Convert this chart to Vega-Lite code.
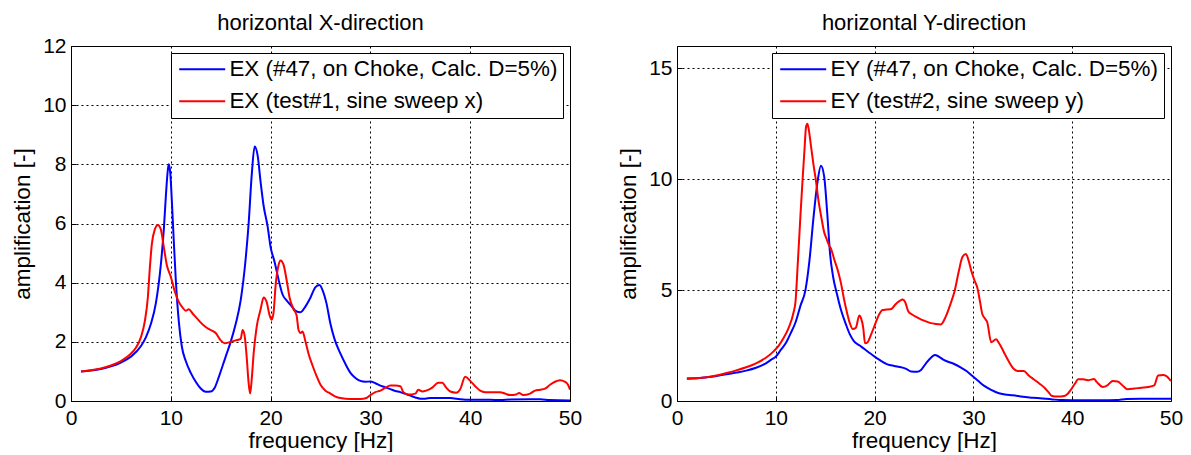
{
  "$schema": "https://vega.github.io/schema/vega-lite/v6.json",
  "padding": {"left": 10, "top": 11, "right": 5, "bottom": 0},
  "spacing": 33,
  "config": {
    "font": "Liberation Sans",
    "view": {"stroke": "#000000", "strokeWidth": 1},
    "axis": {
      "domain": false, "ticks": true, "tickSize": -5, "tickColor": "#000000", "tickWidth": 1, "grid": true,
      "gridColor": "#000000", "gridDash": [2, 3], "gridOpacity": 1, "gridWidth": 1,
      "labelFont": "Liberation Sans", "labelFontSize": 21, "labelColor": "#000000", "labelFlush": false,
      "titleFont": "Liberation Sans", "titleFontSize": 22.5, "titleFontWeight": "normal", "titleColor": "#000000"
    },
    "axisX": {"labelPadding": 11, "titlePadding": 1},
    "axisY": {"labelPadding": 10, "titlePadding": 7, "minExtent": 30, "maxExtent": 30},
    "title": {"font": "Liberation Sans", "fontSize": 22, "fontWeight": "normal", "color": "#000000", "frame": "group", "anchor": "middle", "baseline": "alphabetic"},
    "legend": {
      "orient": "top-right", "offset": 7, "strokeColor": "#000000", "fillColor": "#ffffff",
      "padding": 5, "symbolType": "M-3,0H3", "symbolSize": 235, "symbolStrokeWidth": 2,
      "symbolOffset": 15, "labelOffset": 16, "labelFont": "Liberation Sans", "labelFontSize": 22.4,
      "labelColor": "#000000", "labelLimit": 0, "rowPadding": 9
    }
  },
  "resolve": {"scale": {"color": "independent"}, "legend": {"color": "independent"}},
  "datasets": {
    "ex": [
      {"s":"calc","f":1,"a":1.0},{"s":"calc","f":2,"a":1.03},{"s":"calc","f":3,"a":1.08},{"s":"calc","f":4,"a":1.17},{"s":"calc","f":5,"a":1.3},{"s":"calc","f":6,"a":1.5},{"s":"calc","f":7,"a":1.85},{"s":"calc","f":7.5,"a":2.15},{"s":"calc","f":8,"a":2.6},{"s":"calc","f":8.5,"a":3.3},{"s":"calc","f":9,"a":4.6},{"s":"calc","f":9.3,"a":5.8},{"s":"calc","f":9.5,"a":6.9},{"s":"calc","f":9.7,"a":7.8},{"s":"calc","f":9.8,"a":8.0},{"s":"calc","f":9.95,"a":7.7},{"s":"calc","f":10.1,"a":6.8},{"s":"calc","f":10.3,"a":5.4},{"s":"calc","f":10.5,"a":4.1},{"s":"calc","f":10.8,"a":2.7},{"s":"calc","f":11.1,"a":1.85},{"s":"calc","f":11.5,"a":1.35},{"s":"calc","f":12,"a":0.95},{"s":"calc","f":12.5,"a":0.65},{"s":"calc","f":13,"a":0.42},{"s":"calc","f":13.5,"a":0.31},{"s":"calc","f":14,"a":0.32},{"s":"calc","f":14.4,"a":0.45},{"s":"calc","f":14.8,"a":0.8},{"s":"calc","f":15.2,"a":1.2},{"s":"calc","f":15.6,"a":1.6},{"s":"calc","f":16,"a":2.0},{"s":"calc","f":16.5,"a":2.6},{"s":"calc","f":17,"a":3.4},{"s":"calc","f":17.5,"a":4.8},{"s":"calc","f":17.8,"a":6.0},{"s":"calc","f":18.1,"a":7.6},{"s":"calc","f":18.4,"a":8.6},{"s":"calc","f":18.7,"a":8.3},{"s":"calc","f":19.0,"a":7.4},{"s":"calc","f":19.3,"a":6.6},{"s":"calc","f":19.7,"a":5.9},{"s":"calc","f":20,"a":5.2},{"s":"calc","f":20.4,"a":4.7},{"s":"calc","f":20.8,"a":4.1},{"s":"calc","f":21.2,"a":3.6},{"s":"calc","f":21.6,"a":3.4},{"s":"calc","f":22,"a":3.25},{"s":"calc","f":22.5,"a":3.05},{"s":"calc","f":23,"a":3.0},{"s":"calc","f":23.5,"a":3.2},{"s":"calc","f":24,"a":3.5},{"s":"calc","f":24.5,"a":3.85},{"s":"calc","f":24.9,"a":3.92},{"s":"calc","f":25.2,"a":3.75},{"s":"calc","f":25.6,"a":3.3},{"s":"calc","f":26,"a":2.6},{"s":"calc","f":26.4,"a":2.1},{"s":"calc","f":27,"a":1.6},{"s":"calc","f":27.5,"a":1.25},{"s":"calc","f":28,"a":0.95},{"s":"calc","f":28.5,"a":0.78},{"s":"calc","f":29,"a":0.68},{"s":"calc","f":29.5,"a":0.65},{"s":"calc","f":30,"a":0.66},{"s":"calc","f":30.5,"a":0.6},{"s":"calc","f":31,"a":0.52},{"s":"calc","f":31.5,"a":0.46},{"s":"calc","f":32,"a":0.4},{"s":"calc","f":32.5,"a":0.34},{"s":"calc","f":33,"a":0.3},{"s":"calc","f":33.5,"a":0.24},{"s":"calc","f":34,"a":0.18},{"s":"calc","f":34.5,"a":0.12},{"s":"calc","f":35,"a":0.08},{"s":"calc","f":35.5,"a":0.08},{"s":"calc","f":36,"a":0.1},{"s":"calc","f":37,"a":0.1},{"s":"calc","f":38,"a":0.1},{"s":"calc","f":39,"a":0.06},{"s":"calc","f":40,"a":0.04},{"s":"calc","f":42,"a":0.04},{"s":"calc","f":43,"a":0.03},{"s":"calc","f":44,"a":0.05},{"s":"calc","f":46,"a":0.06},{"s":"calc","f":47,"a":0.06},{"s":"calc","f":48,"a":0.03},{"s":"calc","f":50,"a":0.02},
      {"s":"test","f":1,"a":1.0},{"s":"test","f":2,"a":1.04},{"s":"test","f":3,"a":1.1},{"s":"test","f":4,"a":1.2},{"s":"test","f":5,"a":1.35},{"s":"test","f":6,"a":1.6},{"s":"test","f":6.5,"a":1.8},{"s":"test","f":7,"a":2.15},{"s":"test","f":7.4,"a":2.7},{"s":"test","f":7.7,"a":3.5},{"s":"test","f":7.9,"a":4.5},{"s":"test","f":8.1,"a":5.3},{"s":"test","f":8.4,"a":5.8},{"s":"test","f":8.7,"a":5.95},{"s":"test","f":9.0,"a":5.8},{"s":"test","f":9.3,"a":5.2},{"s":"test","f":9.6,"a":4.6},{"s":"test","f":10,"a":4.2},{"s":"test","f":10.4,"a":3.7},{"s":"test","f":10.8,"a":3.35},{"s":"test","f":11.2,"a":3.15},{"s":"test","f":11.5,"a":3.05},{"s":"test","f":11.8,"a":3.1},{"s":"test","f":12.2,"a":2.95},{"s":"test","f":12.6,"a":2.8},{"s":"test","f":13,"a":2.65},{"s":"test","f":13.5,"a":2.5},{"s":"test","f":14,"a":2.4},{"s":"test","f":14.5,"a":2.3},{"s":"test","f":15,"a":2.05},{"s":"test","f":15.4,"a":1.95},{"s":"test","f":16,"a":2.0},{"s":"test","f":16.5,"a":2.05},{"s":"test","f":17,"a":2.1},{"s":"test","f":17.2,"a":2.4},{"s":"test","f":17.4,"a":2.2},{"s":"test","f":17.6,"a":1.5},{"s":"test","f":17.8,"a":0.6},{"s":"test","f":17.95,"a":0.25},{"s":"test","f":18.1,"a":0.7},{"s":"test","f":18.3,"a":1.6},{"s":"test","f":18.6,"a":2.5},{"s":"test","f":19,"a":3.1},{"s":"test","f":19.3,"a":3.5},{"s":"test","f":19.6,"a":3.35},{"s":"test","f":19.9,"a":2.9},{"s":"test","f":20.1,"a":2.75},{"s":"test","f":20.3,"a":3.0},{"s":"test","f":20.5,"a":3.9},{"s":"test","f":20.8,"a":4.6},{"s":"test","f":21.0,"a":4.75},{"s":"test","f":21.3,"a":4.6},{"s":"test","f":21.6,"a":4.1},{"s":"test","f":21.9,"a":3.5},{"s":"test","f":22.3,"a":3.1},{"s":"test","f":22.6,"a":2.9},{"s":"test","f":22.8,"a":2.4},{"s":"test","f":23.0,"a":2.3},{"s":"test","f":23.2,"a":2.35},{"s":"test","f":23.5,"a":2.0},{"s":"test","f":23.8,"a":1.6},{"s":"test","f":24.2,"a":1.2},{"s":"test","f":24.6,"a":0.85},{"s":"test","f":25,"a":0.55},{"s":"test","f":25.5,"a":0.35},{"s":"test","f":26,"a":0.25},{"s":"test","f":26.5,"a":0.15},{"s":"test","f":27,"a":0.1},{"s":"test","f":28,"a":0.07},{"s":"test","f":29,"a":0.07},{"s":"test","f":29.6,"a":0.1},{"s":"test","f":30,"a":0.2},{"s":"test","f":30.5,"a":0.3},{"s":"test","f":31,"a":0.35},{"s":"test","f":31.5,"a":0.45},{"s":"test","f":32,"a":0.52},{"s":"test","f":32.5,"a":0.52},{"s":"test","f":33,"a":0.5},{"s":"test","f":33.3,"a":0.3},{"s":"test","f":33.8,"a":0.22},{"s":"test","f":34.5,"a":0.25},{"s":"test","f":34.8,"a":0.38},{"s":"test","f":35.2,"a":0.32},{"s":"test","f":35.6,"a":0.35},{"s":"test","f":36.2,"a":0.45},{"s":"test","f":36.8,"a":0.62},{"s":"test","f":37.2,"a":0.62},{"s":"test","f":37.6,"a":0.45},{"s":"test","f":38,"a":0.32},{"s":"test","f":38.6,"a":0.28},{"s":"test","f":39,"a":0.4},{"s":"test","f":39.5,"a":0.82},{"s":"test","f":40,"a":0.68},{"s":"test","f":40.5,"a":0.5},{"s":"test","f":41,"a":0.35},{"s":"test","f":41.5,"a":0.3},{"s":"test","f":42,"a":0.3},{"s":"test","f":43,"a":0.3},{"s":"test","f":43.5,"a":0.25},{"s":"test","f":44,"a":0.2},{"s":"test","f":44.6,"a":0.22},{"s":"test","f":44.9,"a":0.27},{"s":"test","f":45.3,"a":0.2},{"s":"test","f":46,"a":0.25},{"s":"test","f":46.5,"a":0.35},{"s":"test","f":47,"a":0.38},{"s":"test","f":47.5,"a":0.42},{"s":"test","f":48,"a":0.55},{"s":"test","f":48.5,"a":0.65},{"s":"test","f":49,"a":0.7},{"s":"test","f":49.5,"a":0.65},{"s":"test","f":49.8,"a":0.55},{"s":"test","f":50,"a":0.38}
    ],
    "ey": [
      {"s":"calc","f":1,"a":1.0},{"s":"calc","f":2,"a":1.02},{"s":"calc","f":3,"a":1.07},{"s":"calc","f":4,"a":1.13},{"s":"calc","f":5,"a":1.2},{"s":"calc","f":6,"a":1.28},{"s":"calc","f":7,"a":1.37},{"s":"calc","f":8,"a":1.5},{"s":"calc","f":9,"a":1.7},{"s":"calc","f":9.5,"a":1.85},{"s":"calc","f":10,"a":2.0},{"s":"calc","f":10.5,"a":2.3},{"s":"calc","f":11,"a":2.6},{"s":"calc","f":11.5,"a":3.05},{"s":"calc","f":12,"a":3.55},{"s":"calc","f":12.5,"a":4.3},{"s":"calc","f":13,"a":5.0},{"s":"calc","f":13.4,"a":6.3},{"s":"calc","f":13.8,"a":8.2},{"s":"calc","f":14.2,"a":9.8},{"s":"calc","f":14.57,"a":10.6},{"s":"calc","f":14.9,"a":10.1},{"s":"calc","f":15.2,"a":8.5},{"s":"calc","f":15.5,"a":6.6},{"s":"calc","f":15.8,"a":5.6},{"s":"calc","f":16.2,"a":4.8},{"s":"calc","f":16.6,"a":4.1},{"s":"calc","f":17.1,"a":3.45},{"s":"calc","f":17.5,"a":3.0},{"s":"calc","f":17.9,"a":2.7},{"s":"calc","f":18.5,"a":2.5},{"s":"calc","f":19,"a":2.33},{"s":"calc","f":20,"a":2.0},{"s":"calc","f":20.5,"a":1.85},{"s":"calc","f":21.3,"a":1.65},{"s":"calc","f":22,"a":1.58},{"s":"calc","f":22.7,"a":1.52},{"s":"calc","f":23.2,"a":1.45},{"s":"calc","f":23.7,"a":1.33},{"s":"calc","f":24.3,"a":1.32},{"s":"calc","f":24.7,"a":1.4},{"s":"calc","f":25.2,"a":1.7},{"s":"calc","f":25.7,"a":1.95},{"s":"calc","f":26.1,"a":2.07},{"s":"calc","f":26.5,"a":2.0},{"s":"calc","f":27,"a":1.85},{"s":"calc","f":28,"a":1.68},{"s":"calc","f":28.7,"a":1.52},{"s":"calc","f":29.3,"a":1.35},{"s":"calc","f":29.9,"a":1.13},{"s":"calc","f":30.5,"a":0.9},{"s":"calc","f":31.1,"a":0.68},{"s":"calc","f":31.8,"a":0.5},{"s":"calc","f":32.5,"a":0.36},{"s":"calc","f":33.2,"a":0.29},{"s":"calc","f":34,"a":0.26},{"s":"calc","f":35,"a":0.19},{"s":"calc","f":36,"a":0.15},{"s":"calc","f":37,"a":0.11},{"s":"calc","f":38,"a":0.07},{"s":"calc","f":39,"a":0.04},{"s":"calc","f":41,"a":0.03},{"s":"calc","f":43,"a":0.03},{"s":"calc","f":44.5,"a":0.04},{"s":"calc","f":45.5,"a":0.09},{"s":"calc","f":47,"a":0.1},{"s":"calc","f":50,"a":0.1},
      {"s":"test","f":1,"a":1.02},{"s":"test","f":2,"a":1.03},{"s":"test","f":3,"a":1.07},{"s":"test","f":4,"a":1.15},{"s":"test","f":5,"a":1.26},{"s":"test","f":6,"a":1.38},{"s":"test","f":7,"a":1.52},{"s":"test","f":8,"a":1.7},{"s":"test","f":9,"a":1.95},{"s":"test","f":9.8,"a":2.25},{"s":"test","f":10.3,"a":2.5},{"s":"test","f":10.8,"a":2.85},{"s":"test","f":11.3,"a":3.3},{"s":"test","f":11.8,"a":4.0},{"s":"test","f":12.0,"a":4.5},{"s":"test","f":12.2,"a":6.0},{"s":"test","f":12.5,"a":8.4},{"s":"test","f":12.7,"a":9.9},{"s":"test","f":12.9,"a":11.3},{"s":"test","f":13.06,"a":12.35},{"s":"test","f":13.2,"a":12.5},{"s":"test","f":13.35,"a":12.2},{"s":"test","f":13.56,"a":11.5},{"s":"test","f":13.8,"a":10.7},{"s":"test","f":14.07,"a":9.9},{"s":"test","f":14.3,"a":9.1},{"s":"test","f":14.6,"a":8.3},{"s":"test","f":14.9,"a":7.6},{"s":"test","f":15.1,"a":7.35},{"s":"test","f":15.4,"a":7.0},{"s":"test","f":15.6,"a":6.85},{"s":"test","f":15.9,"a":6.4},{"s":"test","f":16.3,"a":5.85},{"s":"test","f":16.6,"a":5.3},{"s":"test","f":16.9,"a":4.6},{"s":"test","f":17.2,"a":4.0},{"s":"test","f":17.5,"a":3.5},{"s":"test","f":17.8,"a":3.24},{"s":"test","f":18.1,"a":3.3},{"s":"test","f":18.45,"a":3.85},{"s":"test","f":18.65,"a":3.7},{"s":"test","f":18.85,"a":3.3},{"s":"test","f":19.03,"a":2.6},{"s":"test","f":19.3,"a":2.65},{"s":"test","f":19.6,"a":2.95},{"s":"test","f":20,"a":3.4},{"s":"test","f":20.3,"a":3.75},{"s":"test","f":20.8,"a":4.1},{"s":"test","f":21.2,"a":4.12},{"s":"test","f":21.7,"a":4.15},{"s":"test","f":22.1,"a":4.35},{"s":"test","f":22.5,"a":4.5},{"s":"test","f":22.85,"a":4.58},{"s":"test","f":23.1,"a":4.45},{"s":"test","f":23.4,"a":4.05},{"s":"test","f":23.8,"a":3.9},{"s":"test","f":24.4,"a":3.75},{"s":"test","f":25,"a":3.62},{"s":"test","f":25.6,"a":3.52},{"s":"test","f":26.2,"a":3.47},{"s":"test","f":26.7,"a":3.45},{"s":"test","f":27.2,"a":3.8},{"s":"test","f":27.7,"a":4.4},{"s":"test","f":28.1,"a":4.96},{"s":"test","f":28.5,"a":5.8},{"s":"test","f":28.9,"a":6.5},{"s":"test","f":29.25,"a":6.62},{"s":"test","f":29.5,"a":6.35},{"s":"test","f":29.8,"a":5.85},{"s":"test","f":30.1,"a":5.45},{"s":"test","f":30.4,"a":5.1},{"s":"test","f":30.7,"a":4.4},{"s":"test","f":30.9,"a":3.92},{"s":"test","f":31.2,"a":3.7},{"s":"test","f":31.4,"a":3.55},{"s":"test","f":31.8,"a":2.65},{"s":"test","f":32.3,"a":2.78},{"s":"test","f":32.6,"a":2.6},{"s":"test","f":32.8,"a":2.45},{"s":"test","f":33.2,"a":2.1},{"s":"test","f":33.5,"a":1.85},{"s":"test","f":34.1,"a":1.44},{"s":"test","f":34.5,"a":1.35},{"s":"test","f":35.1,"a":1.35},{"s":"test","f":35.6,"a":1.15},{"s":"test","f":36.1,"a":0.98},{"s":"test","f":36.7,"a":0.78},{"s":"test","f":37.2,"a":0.6},{"s":"test","f":37.6,"a":0.4},{"s":"test","f":37.9,"a":0.24},{"s":"test","f":38.5,"a":0.2},{"s":"test","f":39.2,"a":0.23},{"s":"test","f":39.6,"a":0.35},{"s":"test","f":39.9,"a":0.53},{"s":"test","f":40.3,"a":0.8},{"s":"test","f":40.6,"a":0.98},{"s":"test","f":41.1,"a":0.98},{"s":"test","f":41.6,"a":0.94},{"s":"test","f":42.2,"a":0.99},{"s":"test","f":42.5,"a":0.85},{"s":"test","f":43.1,"a":0.63},{"s":"test","f":43.6,"a":0.72},{"s":"test","f":44.1,"a":0.9},{"s":"test","f":44.6,"a":0.88},{"s":"test","f":45.1,"a":0.7},{"s":"test","f":45.6,"a":0.53},{"s":"test","f":46.3,"a":0.56},{"s":"test","f":47,"a":0.6},{"s":"test","f":47.7,"a":0.63},{"s":"test","f":48.3,"a":0.7},{"s":"test","f":48.7,"a":1.15},{"s":"test","f":49.2,"a":1.17},{"s":"test","f":49.5,"a":1.13},{"s":"test","f":50,"a":0.9}
    ]
  },
  "hconcat": [
    {
      "width": 499, "height": 355,
      "title": {"text": "horizontal X-direction", "offset": 0},
      "data": {"name": "ex"},
      "mark": {"type": "line", "strokeWidth": 2, "interpolate": "monotone", "clip": true},
      "encoding": {
        "x": {"field": "f", "type": "quantitative", "scale": {"domain": [0, 50], "nice": false}, "axis": {"title": "frequency [Hz]", "values": [0, 10, 20, 30, 40, 50]}},
        "y": {"field": "a", "type": "quantitative", "scale": {"domain": [0, 12], "nice": false}, "axis": {"title": "amplification [-]", "values": [0, 2, 4, 6, 8, 10, 12]}},
        "color": {"field": "s", "type": "nominal", "scale": {"domain": ["calc", "test"], "range": ["#0000ff", "#ff0000"]},
          "legend": {"title": null, "labelExpr": "datum.value == 'calc' ? 'EX (#47, on Choke, Calc. D=5%)' : 'EX (test#1, sine sweep x)'"}}
      }
    },
    {
      "width": 494, "height": 355,
      "title": {"text": "horizontal Y-direction", "offset": 11},
      "data": {"name": "ey"},
      "mark": {"type": "line", "strokeWidth": 2, "interpolate": "monotone", "clip": true},
      "encoding": {
        "x": {"field": "f", "type": "quantitative", "scale": {"domain": [0, 50], "nice": false}, "axis": {"title": "frequency [Hz]", "values": [0, 10, 20, 30, 40, 50]}},
        "y": {"field": "a", "type": "quantitative", "scale": {"domain": [0, 16], "nice": false}, "axis": {"title": "amplification [-]", "values": [0, 5, 10, 15]}},
        "color": {"field": "s", "type": "nominal", "scale": {"domain": ["calc", "test"], "range": ["#0000ff", "#ff0000"]},
          "legend": {"title": null, "labelExpr": "datum.value == 'calc' ? 'EY (#47, on Choke, Calc. D=5%)' : 'EY (test#2, sine sweep y)'"}}
      }
    }
  ]
}
